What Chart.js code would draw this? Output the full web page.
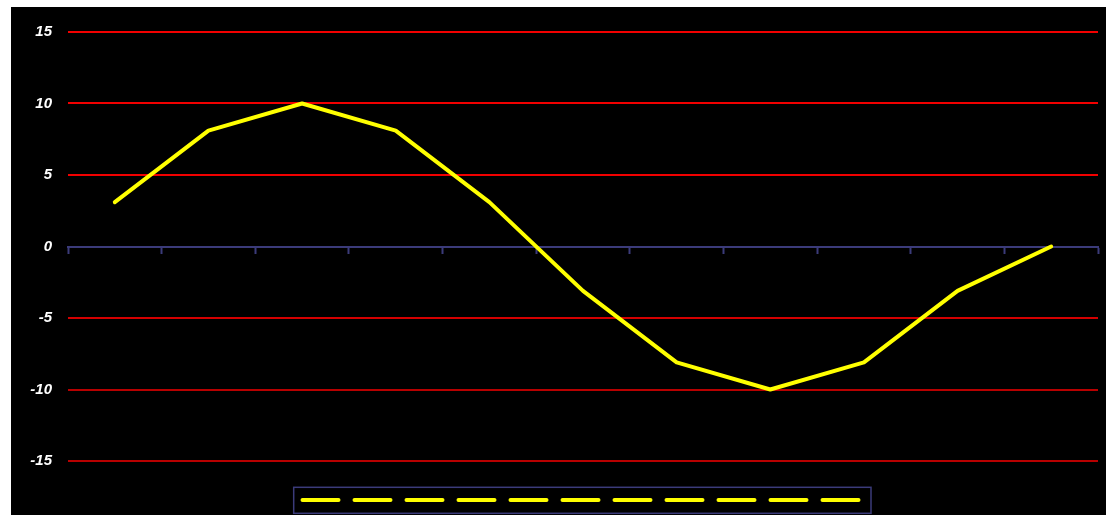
<!DOCTYPE html>
<html>
<head>
<meta charset="utf-8">
<script src="https://cdn.jsdelivr.net/npm/chart.js@4/dist/chart.umd.min.js"></script>
<style>
  html, body { margin: 0; padding: 0; background: #ffffff; }
  #wrap { position: absolute; left: 11px; top: 7px; width: 1095px; height: 508px; background: #000000; }
  canvas { display: block; }
</style>
</head>
<body>
<div id="wrap"><canvas id="c" width="1095" height="508"></canvas></div>
<script>
const categories = ['1', '2', '3', '4', '5', '6', '7', '8', '9', '10', '11'];
const seriesValues = [3.1, 8.1, 10, 8.1, 3.1, -3.1, -8.1, -10, -8.1, -3.1, 0];
const yTickValues = [-15, -10, -5, 0, 5, 10, 15];

const lineColor = '#ffff00';
const axisNavy = '#3b3b7a';

function gridColorFor(v) {
  if (v === 0) return 'rgba(0,0,0,0)';
  if (v > 0) return '#f20000';
  if (v === -5) return '#d40000';
  return '#b80000';
}

const legendBoxPlugin = {
  id: 'legendBox',
  afterDraw(chart) {
    const lg = chart.legend;
    if (!lg || !lg.legendHitBoxes || !lg.legendHitBoxes.length) return;
    const hb = lg.legendHitBoxes[0];
    const ctx = chart.ctx;
    ctx.save();
    ctx.strokeStyle = axisNavy;
    ctx.lineWidth = 1.5;
    const x1 = hb.left - 8.8, x2 = hb.left + hb.width + 7.5;
    const y1 = hb.top - 7.7, y2 = hb.top + 18.3;
    ctx.strokeRect(x1, y1, x2 - x1, y2 - y1);
    ctx.restore();
  }
};

new Chart(document.getElementById('c'), {
  type: 'line',
  data: {
    labels: categories,
    datasets: [{
      label: '',
      data: seriesValues,
      borderColor: lineColor,
      backgroundColor: lineColor,
      borderWidth: 4,
      pointRadius: 0,
      pointHoverRadius: 0,
      tension: 0,
      fill: false,
      borderJoinStyle: 'round',
      borderCapStyle: 'round'
    }]
  },
  options: {
    responsive: false,
    animation: false,
    events: [],
    layout: { padding: { left: 0, right: 8, top: 25, bottom: 0 } },
    scales: {
      x: {
        type: 'category',
        position: { y: 0 },
        offset: true,
        border: { display: true, color: axisNavy, width: 2 },
        grid: {
          offset: true,
          drawOnChartArea: false,
          drawTicks: true,
          tickLength: 6,
          tickWidth: 2,
          color: axisNavy
        },
        ticks: { display: false }
      },
      y: {
        type: 'linear',
        min: yTickValues[0],
        max: yTickValues[yTickValues.length - 1],
        afterFit(scale) { scale.width = 57; },
        border: { display: false },
        grid: {
          drawTicks: false,
          lineWidth: 2,
          color: ctx => gridColorFor(ctx.tick ? ctx.tick.value : null)
        },
        ticks: {
          stepSize: yTickValues[1] - yTickValues[0],
          autoSkip: false,
          padding: 16,
          color: '#ffffff',
          font: { family: 'Liberation Sans', size: 15, weight: 'bold', style: 'italic' }
        }
      }
    },
    plugins: {
      tooltip: { enabled: false },
      legend: {
        display: true,
        position: 'bottom',
        align: 'center',
        fullSize: false,
        labels: {
          usePointStyle: true,
          pointStyleWidth: 556,
          boxHeight: 10,
          padding: 34,
          font: { size: 10 },
          color: '#ffffff',
          generateLabels() {
            return [{
              text: '',
              fillStyle: 'rgba(0,0,0,0)',
              strokeStyle: lineColor,
              lineWidth: 4,
              lineDash: [36, 16],
              lineCap: 'round',
              pointStyle: 'line',
              hidden: false,
              datasetIndex: 0
            }];
          }
        }
      }
    }
  },
  plugins: [legendBoxPlugin]
});
</script>
</body>
</html>
